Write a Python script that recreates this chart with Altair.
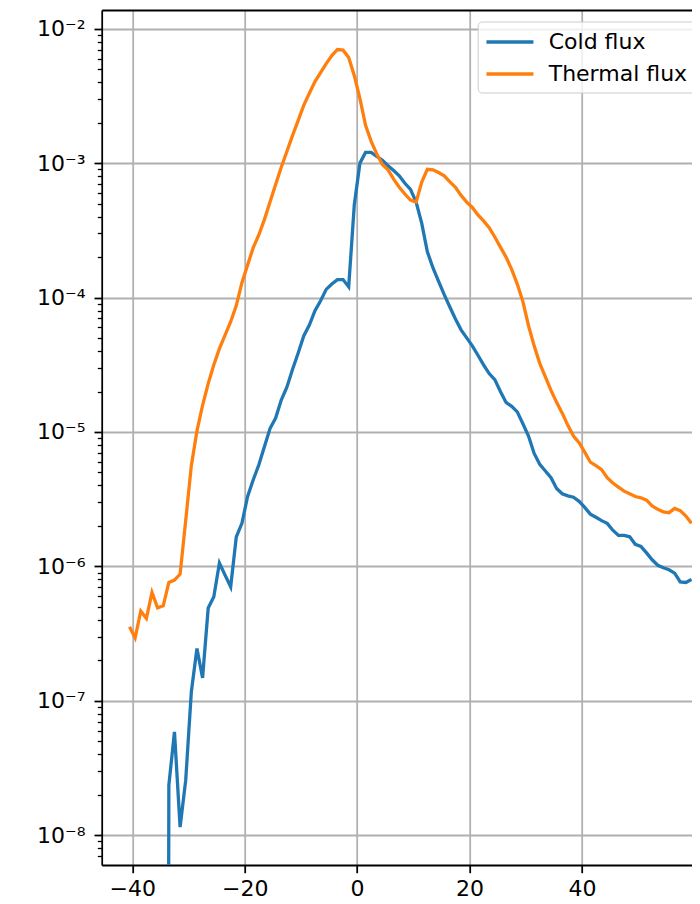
import altair as alt
import pandas as pd

# x positions (bin centres)
x_vals = [-40.5 + i for i in range(101)]

cold_flux = [
    0.0, 0.0, 0.0, 0.0, 0.0, 0.0, 0.0, 2.36e-8, 5.87e-8, 1.15e-8,
    2.57e-8, 1.17e-7, 2.45e-7, 1.48e-7, 4.90e-7, 5.94e-7, 1.06e-6, 8.61e-7, 7.05e-7, 1.66e-6,
    2.09e-6, 3.30e-6, 4.39e-6, 5.68e-6, 7.76e-6, 1.06e-5, 1.27e-5, 1.73e-5, 2.15e-5, 2.92e-5,
    3.85e-5, 5.18e-5, 6.24e-5, 7.98e-5, 9.46e-5, 1.15e-4, 1.26e-4, 1.36e-4, 1.36e-4, 1.20e-4,
    4.90e-4, 1.00e-3, 1.20e-3, 1.20e-3, 1.12e-3, 1.05e-3, 9.55e-4, 8.81e-4, 8.04e-4, 7.08e-4,
    6.38e-4, 5.13e-4, 3.56e-4, 2.19e-4, 1.66e-4, 1.32e-4, 1.05e-4, 8.51e-5, 6.92e-5, 5.75e-5,
    5.01e-5, 4.37e-5, 3.72e-5, 3.16e-5, 2.72e-5, 2.45e-5, 2.00e-5, 1.66e-5, 1.55e-5, 1.41e-5,
    1.15e-5, 9.33e-6, 6.92e-6, 5.75e-6, 5.13e-6, 4.57e-6, 3.80e-6, 3.47e-6, 3.35e-6, 3.27e-6,
    3.05e-6, 2.75e-6, 2.45e-6, 2.32e-6, 2.19e-6, 2.09e-6, 1.86e-6, 1.70e-6, 1.70e-6, 1.66e-6,
    1.46e-6, 1.41e-6, 1.26e-6, 1.12e-6, 1.02e-6, 9.77e-7, 9.44e-7, 8.91e-7, 7.67e-7, 7.59e-7,
    8.00e-7,
]

thermal_flux = [
    3.56e-7, 2.94e-7, 4.65e-7, 4.10e-7, 6.41e-7, 4.92e-7, 5.09e-7, 7.60e-7, 7.91e-7, 8.77e-7,
    2.20e-6, 5.62e-6, 1.02e-5, 1.58e-5, 2.29e-5, 3.16e-5, 4.17e-5, 5.25e-5, 6.61e-5, 8.71e-5,
    1.29e-4, 1.74e-4, 2.34e-4, 2.92e-4, 3.80e-4, 5.13e-4, 6.92e-4, 9.33e-4, 1.22e-3, 1.60e-3,
    2.07e-3, 2.69e-3, 3.31e-3, 4.04e-3, 4.72e-3, 5.50e-3, 6.31e-3, 7.00e-3, 6.92e-3, 6.10e-3,
    4.47e-3, 3.02e-3, 1.91e-3, 1.45e-3, 1.17e-3, 9.77e-4, 8.91e-4, 7.59e-4, 6.61e-4, 5.89e-4,
    5.31e-4, 5.13e-4, 7.24e-4, 9.00e-4, 8.91e-4, 8.51e-4, 8.04e-4, 7.24e-4, 6.61e-4, 5.75e-4,
    5.13e-4, 4.68e-4, 4.12e-4, 3.72e-4, 3.31e-4, 2.82e-4, 2.37e-4, 2.00e-4, 1.62e-4, 1.26e-4,
    9.33e-5, 6.17e-5, 4.37e-5, 3.24e-5, 2.57e-5, 2.04e-5, 1.66e-5, 1.38e-5, 1.12e-5, 9.33e-6,
    8.32e-6, 7.08e-6, 5.96e-6, 5.62e-6, 5.25e-6, 4.57e-6, 4.17e-6, 3.89e-6, 3.63e-6, 3.47e-6,
    3.31e-6, 3.24e-6, 3.11e-6, 2.82e-6, 2.66e-6, 2.54e-6, 2.51e-6, 2.70e-6, 2.60e-6, 2.37e-6,
    2.09e-6,
]

series_names = ["Cold flux", "Thermal flux"]
series_colors = ["#1f77b4", "#ff7f0e"]

x_ticks = [-40, -20, 0, 20, 40, 60]
y_ticks = [1e-8, 1e-7, 1e-6, 1e-5, 1e-4, 1e-3, 1e-2]
y_minor = [m * d for d in [1e-9, 1e-8, 1e-7, 1e-6, 1e-5, 1e-4, 1e-3, 1e-2] for m in range(2, 10)]
y_minor = [v for v in y_minor if 6.0e-9 < v < 1.37e-2]

assert len(cold_flux) == len(x_vals) == len(thermal_flux)

# zero values are clipped to a tiny positive number (like matplotlib's log clip)
rows = []
for name, vals in zip(series_names, [cold_flux, thermal_flux]):
    for xv, yv in zip(x_vals, vals):
        rows.append({"x": xv, "y": yv if yv > 0 else 1e-30, "series": name})
df = pd.DataFrame(rows)

FONT = "DejaVu Sans"
FS = 22
x_scale = alt.Scale(domain=[-45.45, 59.59], nice=False, zero=False)
y_scale = alt.Scale(type="log", domain=[6.01e-9, 1.377e-2], nice=False)

y_label_expr = ("'10\u207b' + substring('\u2070\u00b9\u00b2\u00b3\u2074\u2075\u2076\u2077\u2078\u2079', "
                "-round(log(datum.value)/LN10), -round(log(datum.value)/LN10) + 1)")
x_label_expr = "datum.value < 0 ? '\u2212' + abs(datum.value) : '' + datum.value"

lines = alt.Chart(df).mark_line(strokeWidth=3.3, clip=True).encode(
    x=alt.X("x:Q", scale=x_scale, axis=alt.Axis(
        values=x_ticks, title=None, grid=True, gridColor="#b0b0b0", gridWidth=1.76,
        domain=True, domainColor="black", domainWidth=1.76,
        ticks=True, tickColor="black", tickWidth=1.76, tickSize=7.7,
        labelFont=FONT, labelFontSize=FS, labelColor="black", labelPadding=6,
        labelExpr=x_label_expr, labelFlush=False, labelOverlap=False)),
    y=alt.Y("y:Q", scale=y_scale, axis=alt.Axis(
        values=y_ticks, title=None, grid=True, gridColor="#b0b0b0", gridWidth=1.76,
        domain=True, domainColor="black", domainWidth=1.76,
        ticks=True, tickColor="black", tickWidth=1.76, tickSize=7.7,
        labelFont=FONT, labelFontSize=FS, labelColor="black", labelPadding=9,
        labelExpr=y_label_expr, labelFlush=False, labelOverlap=False)),
    color=alt.Color("series:N", scale=alt.Scale(domain=series_names, range=series_colors),
                    legend=alt.Legend(
                        title=None, orient="none", legendX=376, legendY=11.5,
                        symbolType="M-1,0H3", symbolStrokeWidth=3.3, symbolSize=552,
                        labelFont=FONT, labelFontSize=FS, labelColor="black",
                        labelOffset=37, rowPadding=7, padding=7,
                        strokeColor="#cccccc", fillColor="rgba(255,255,255,0.8)",
                        cornerRadius=4)),
)

frame = alt.Chart(df).mark_line(opacity=0).encode(
    x=alt.X("x:Q", scale=x_scale, axis=alt.Axis(
        orient="top", title=None, labels=False, ticks=False, grid=False,
        domain=True, domainColor="black", domainWidth=1.76)),
    y=alt.Y("y:Q", scale=y_scale, axis=alt.Axis(
        orient="left", values=y_minor, title=None, labels=False, grid=False,
        domain=False, ticks=True, tickColor="black", tickWidth=1.3, tickSize=4.4)),
)

chart = alt.layer(lines, frame).resolve_axis(x="independent", y="independent").properties(
    width=590.3, height=855,
    autosize=alt.AutoSizeParams(type="none"),
    padding={"left": 93.7, "top": 2, "right": 0, "bottom": 39},
).configure_view(stroke=None)

chart.save("out.html", embed_options={"renderer": "svg", "actions": False})
